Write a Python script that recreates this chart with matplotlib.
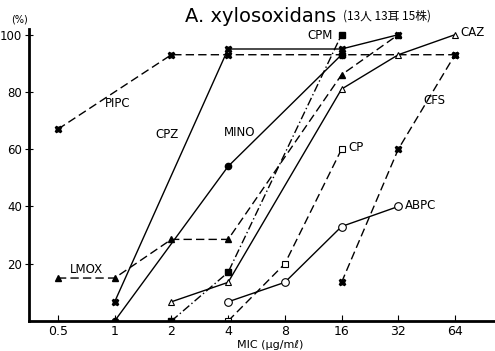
import numpy as np
import matplotlib
matplotlib.use("Agg")
import matplotlib.pyplot as plt

plt.rcParams['font.family'] = ['DejaVu Sans', 'Noto Sans CJK JP']

# MIC values (ug/ml) and cumulative % of strains inhibited
mic_ticks = [0.5, 1, 2, 4, 8, 16, 32, 64]
tick_labels = ['0.5', '1', '2', '4', '8', '16', '32', '64']

pipc_x = [0.5, 2, 4, 16, 64]
pipc_y = [67, 93, 93, 93, 93]

cpz_x = [1, 4, 16, 32]
cpz_y = [6.7, 95, 95, 100]

mino_x = [1, 4, 16]
mino_y = [0, 54, 93]

cpm_x = [2, 4, 16]
cpm_y = [0, 17, 100]

lmox_x = [0.5, 1, 2, 4, 16, 32]
lmox_y = [15, 15, 28.5, 28.5, 86, 100]

caz_x = [2, 4, 16, 32, 64]
caz_y = [6.7, 13.5, 81, 93, 100]

cp_x = [4, 8, 16]
cp_y = [0, 20, 60]

abpc_x = [4, 8, 16, 32]
abpc_y = [6.7, 13.5, 33, 40]

cfs_x = [16, 32, 64]
cfs_y = [13.5, 60, 93]

fig = plt.figure(figsize=(4.95, 3.51), dpi=100)
ax = fig.add_axes([0.0586, 0.0855, 0.9414, 0.832])

dash = (0, (6, 3))
dashdot = (0, (6, 2, 1, 2))
lw = 1.0

def lx(v):
    return np.log2(v)

ax.plot(lx(pipc_x), pipc_y, color='k', lw=lw, ls=dash, marker='X', ms=4.5)
ax.plot(lx(cfs_x), cfs_y, color='k', lw=lw, ls=dash, marker='X', ms=4.5)
ax.plot(lx(cpz_x), cpz_y, color='k', lw=lw, ls='-', marker='X', ms=4.5)
ax.plot(lx(mino_x), mino_y, color='k', lw=lw, ls='-', marker='o', ms=4.5)
ax.plot(lx(cpm_x), cpm_y, color='k', lw=lw, ls=dashdot, marker='s', ms=4)
ax.plot(lx(lmox_x), lmox_y, color='k', lw=lw, ls=dash, marker='^', ms=4)
ax.plot(lx(caz_x), caz_y, color='k', lw=lw, ls='-', marker='^', ms=4.5,
        mfc='white', mew=0.8)
ax.plot(lx(cp_x), cp_y, color='k', lw=lw, ls=dash, marker='s', ms=4.5,
        mfc='white', mew=0.8)
ax.plot(lx(abpc_x), abpc_y, color='k', lw=lw, ls='-', marker='o', ms=5.5,
        mfc='white', mew=0.8)

fs = 8.5
ax.text(0.05, 76, 'PIPC', fontsize=fs, ha='center', va='center')
ax.text(0.92, 65, 'CPZ', fontsize=fs, ha='center', va='center')
ax.text(2.2, 65.7, 'MINO', fontsize=fs, ha='center', va='center')
ax.text(3.85, 99.6, 'CPM', fontsize=fs, ha='right', va='center')
ax.text(6.1, 100.7, 'CAZ', fontsize=fs, ha='left', va='center')
ax.text(5.63, 77, 'CFS', fontsize=fs, ha='center', va='center')
ax.text(4.12, 60.5, 'CP', fontsize=fs, ha='left', va='center')
ax.text(5.12, 40.5, 'ABPC', fontsize=fs, ha='left', va='center')
ax.text(-0.49, 18, 'LMOX', fontsize=fs, ha='center', va='center')

ax.set_xlim(-1.51, 6.705)
ax.set_ylim(0, 102)
ax.set_xticks(lx(mic_ticks))
ax.set_xticklabels(tick_labels)
ax.set_yticks([20, 40, 60, 80, 100])
ax.tick_params(axis='x', direction='in', length=4, width=0.8, labelsize=9, pad=3)
ax.tick_params(axis='y', direction='inout', length=6, width=0.8, labelsize=8.5, pad=2)

for s in ['top', 'right']:
    ax.spines[s].set_visible(False)
ax.spines['left'].set_linewidth(2)
ax.spines['bottom'].set_linewidth(2)

fig.text(185 / 495, 1 - 16 / 351, 'A. xylosoxidans', fontsize=14, va='center', ha='left')
fig.text(343 / 495, 1 - 16 / 351, '(13人 13耳 15株)', fontsize=8.5, va='center',
         ha='left', family='Noto Sans CJK JP')
fig.text(20 / 495, 1 - 19 / 351, '(%)', fontsize=7, va='center', ha='center')
fig.text(270 / 495, 1 - 345 / 351, 'MIC (μg/mℓ)', fontsize=8, va='center', ha='center')

fig.savefig('out.png', dpi=100)
